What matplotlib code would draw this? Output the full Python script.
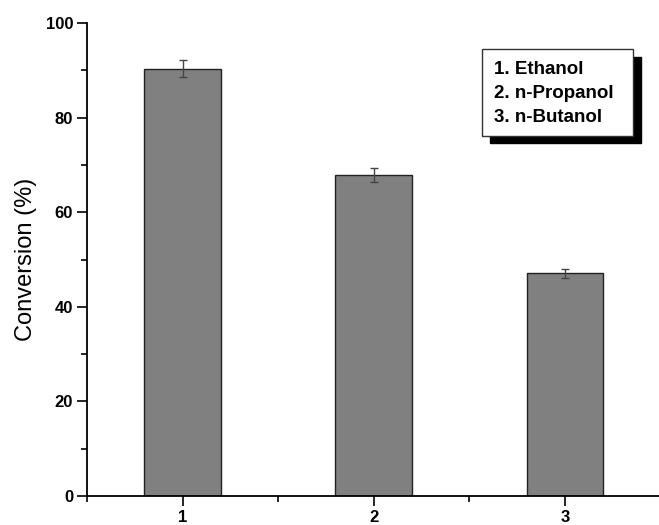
import matplotlib
matplotlib.use("Agg")
import matplotlib.pyplot as plt
from matplotlib.patches import Rectangle
from matplotlib.ticker import MultipleLocator

categories = [1, 2, 3]
conversion = [90.3, 67.9, 47.1]
errors = [1.8, 1.4, 1.0]
legend_lines = ["1. Ethanol", "2. n-Propanol", "3. n-Butanol"]

plt.rcParams['font.family'] = ['Liberation Sans', 'DejaVu Sans']

fig = plt.figure(figsize=(6.59, 5.25), dpi=100)
ax = fig.add_axes([0.132, 0.0552, 0.870, 0.9008])

ax.bar(categories, conversion, width=0.4, color='#808080', edgecolor='#222222', linewidth=1.0, zorder=2)
ax.errorbar(categories, conversion, yerr=errors, fmt='none', ecolor='#444444', elinewidth=1.0,
            capsize=3, capthick=1.0, zorder=3)

ax.set_xlim(0.5, 3.5)
ax.set_ylim(0, 100)
ax.set_xticks(categories)
ax.set_xticklabels([str(c) for c in categories], fontweight='bold', fontsize=12)
ax.xaxis.set_minor_locator(MultipleLocator(0.5))
ax.set_yticks([0, 20, 40, 60, 80, 100])
ax.set_yticklabels(['0', '20', '40', '60', '80', '100'], fontweight='bold', fontsize=12)
ax.yaxis.set_minor_locator(MultipleLocator(10))
ax.tick_params(which='major', direction='out', length=7, width=1.2, pad=3)
ax.tick_params(which='minor', direction='out', length=4, width=1.2)
for s in ['top', 'right']:
    ax.spines[s].set_visible(False)
for s in ['left', 'bottom']:
    ax.spines[s].set_linewidth(1.3)
ax.set_ylabel('Conversion (%)', fontsize=17, labelpad=6)

# legend box with shadow (figure pixel coords)
W, H = 659, 525
def fr(x0, y0, x1, y1):
    return (x0 / W, 1 - y1 / H), (x1 - x0) / W, (y1 - y0) / H
xy, w, h = fr(490, 57, 641, 143)
fig.patches.append(Rectangle(xy, w, h, transform=fig.transFigure, facecolor='black', edgecolor='black', zorder=5))
xy, w, h = fr(482, 49, 633, 136)
fig.patches.append(Rectangle(xy, w, h, transform=fig.transFigure, facecolor='white', edgecolor='#333333', linewidth=1.0, zorder=6))
for i, t in enumerate(legend_lines):
    fig.text(494 / W, 1 - (70 + 24 * i) / H, t, fontsize=13.5, fontweight='bold', va='center', ha='left', zorder=7)

fig.savefig('out.png', dpi=100)
